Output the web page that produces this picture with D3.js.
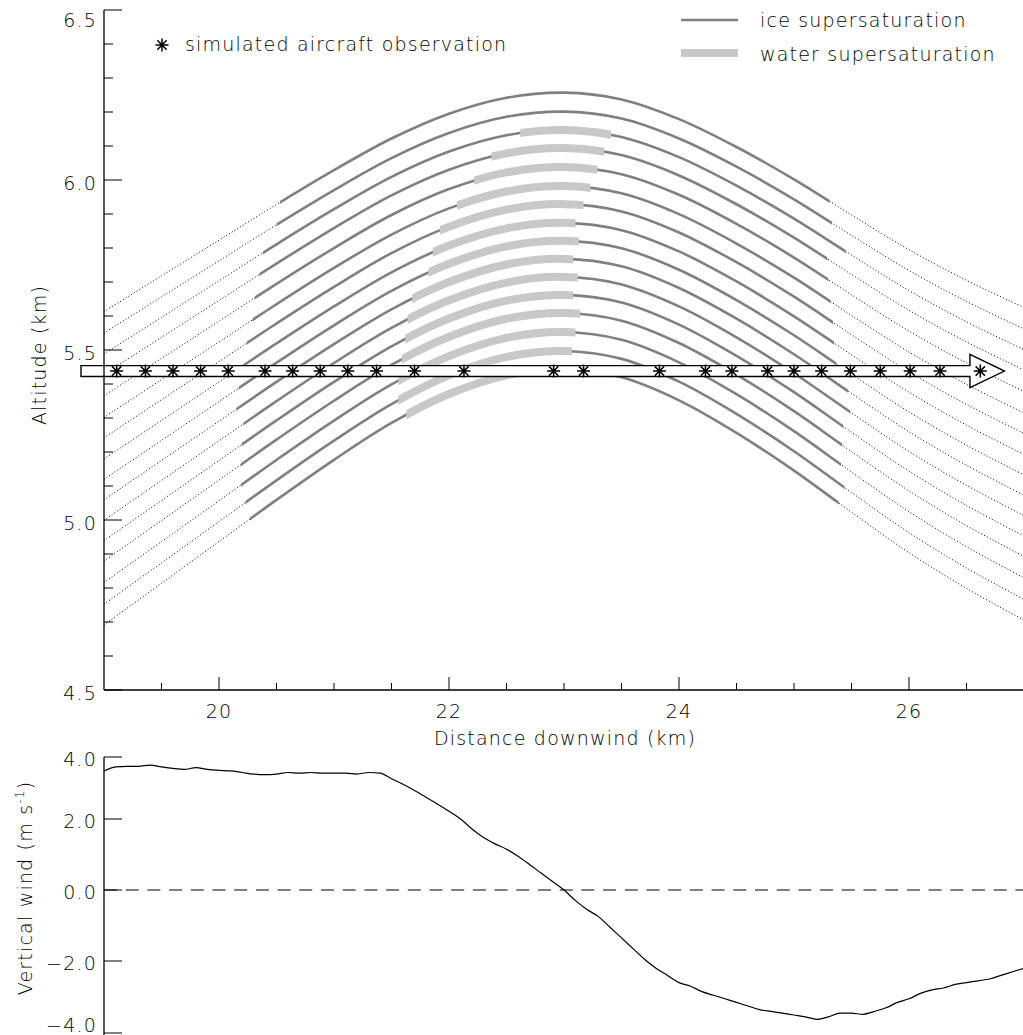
<!DOCTYPE html>
<html><head><meta charset="utf-8">
<script src="https://cdn.jsdelivr.net/npm/d3@7"></script>
<style>
html,body{margin:0;padding:0;background:#fff;}
svg{display:block;}
text{font-family:"DejaVu Sans",sans-serif;fill:#000;font-weight:200;letter-spacing:1.2px;}
</style></head>
<body>
<script>
// ---------- data ----------
// base streamline shape: depth below the crest (km) at each distance (km)
const shapeX    = [19, 19.5, 20, 20.5, 21, 21.5, 22, 22.5, 23, 23.5, 24, 24.5, 25, 25.5, 26, 26.5, 27];
const shapeDrop = [0.644, 0.539, 0.434, 0.329, 0.228, 0.135, 0.062, 0.015, 0, 0.020, 0.078, 0.160, 0.255, 0.360, 0.462, 0.552, 0.632];
// crest altitude (km) and amplitude factor of each of the 16 streamlines
const lineCrest = [6.257, 6.201, 6.147, 6.094, 6.038, 5.982, 5.929, 5.874, 5.821, 5.768, 5.715, 5.662, 5.609, 5.553, 5.497, 5.443];
const lineAmp   = [1.000, 1.011, 1.022, 1.033, 1.044, 1.056, 1.067, 1.078, 1.089, 1.100, 1.111, 1.122, 1.133, 1.144, 1.156, 1.167];
// ice supersaturation extent (km)
const iceStart  = [20.53, 20.50, 20.38, 20.35, 20.31, 20.29, 20.24, 20.21, 20.17, 20.15, 20.21, 20.20, 20.19, 20.19, 20.23, 20.27];
const iceEnd    = [25.31, 25.33, 25.45, 25.29, 25.30, 25.32, 25.34, 25.35, 25.37, 25.47, 25.49, 25.43, 25.42, 25.41, 25.44, 25.39];
// water supersaturation extent (km); null = none
const waterStart = [null, null, 22.62, 22.37, 22.22, 22.07, 21.92, 21.86, 21.82, 21.68, 21.64, 21.62, 21.59, 21.56, 21.56, 21.63];
const waterEnd   = [null, null, 23.41, 23.35, 23.29, 23.23, 23.17, 23.10, 23.13, 23.08, 23.12, 23.08, 23.14, 23.10, 23.07, 23.11];
// simulated aircraft observations (km downwind)
const obsX = [19.11, 19.36, 19.60, 19.84, 20.08, 20.40, 20.64, 20.88, 21.12, 21.37, 21.70, 22.13, 22.91, 23.17,
              23.83, 24.23, 24.46, 24.77, 25.00, 25.24, 25.49, 25.75, 26.01, 26.27, 26.62];
const flightAlt = 5.438;
const arrowX = [18.80, 26.53, 26.83];          // tail, head base, tip (km)
const arrowHalf = [0.016, 0.049];              // shaft / head half-height (km)
// vertical wind (m/s) every 0.1 km from 19.0 to 27.0
const windW = [3.55, 3.68, 3.70, 3.70, 3.74, 3.68, 3.63, 3.60, 3.66, 3.60,
               3.57, 3.55, 3.50, 3.45, 3.43, 3.45, 3.50, 3.48, 3.50, 3.48,
               3.48, 3.48, 3.45, 3.50, 3.48, 3.30, 3.12, 2.92, 2.70, 2.48,
               2.25, 2.00, 1.72, 1.48, 1.30, 1.15, 0.95, 0.72, 0.48, 0.24,
               0.00, -0.30, -0.55, -0.75, -1.05, -1.35, -1.65, -1.95, -2.20, -2.40,
               -2.60, -2.70, -2.85, -2.95, -3.05, -3.15, -3.25, -3.35, -3.40, -3.45,
               -3.50, -3.55, -3.62, -3.55, -3.45, -3.45, -3.48, -3.40, -3.30, -3.15,
               -3.05, -2.90, -2.80, -2.75, -2.65, -2.60, -2.55, -2.50, -2.40, -2.30, -2.20];
const windX = windW.map((d, i) => 19 + i * 0.1);
const altTicks = [4.5, 5.0, 5.5, 6.0, 6.5];
const distTicks = [20, 22, 24, 26];
const windTicks = [-4, -2, 0, 2, 4];

// ---------- drawing ----------
const W = 1023, H = 1035;
const svg = d3.select("body").append("svg").attr("width", W).attr("height", H);
const defs = svg.append("defs");

const x = d3.scaleLinear().domain([19, 27]).range([104, 1024]);
const yA = d3.scaleLinear().domain([4.5, 6.5]).range([690, 10]);
const yW = d3.scaleLinear().domain([-4, -2, 0, 2, 4]).range([1033, 961, 890, 819, 757]);

const ICE = "#808080", WATER = "#c8c8c8";

const lineGen = d3.line().x(d => x(d[0])).y(d => yA(d[1])).curve(d3.curveCatmullRom.alpha(0.5));

const gLines = svg.append("g");
lineCrest.forEach((crest, i) => {
  const pts = shapeX.map((sx, k) => [sx, crest - shapeDrop[k] * lineAmp[i]]);
  const d = lineGen(pts);
  const cOut = defs.append("clipPath").attr("id", "out" + i);
  cOut.append("rect").attr("x", x(19) - 2).attr("y", 0).attr("width", x(iceStart[i]) - x(19) + 2).attr("height", H);
  cOut.append("rect").attr("x", x(iceEnd[i])).attr("y", 0).attr("width", x(27) - x(iceEnd[i]) + 2).attr("height", H);
  const cIce = defs.append("clipPath").attr("id", "ice" + i);
  cIce.append("rect").attr("x", x(iceStart[i])).attr("y", 0).attr("width", x(iceEnd[i]) - x(iceStart[i])).attr("height", H);
  gLines.append("path").attr("d", d).attr("fill", "none").attr("stroke", "#000")
    .attr("stroke-width", 1).attr("stroke-dasharray", "1,2.2").attr("clip-path", `url(#out${i})`);
  gLines.append("path").attr("d", d).attr("fill", "none").attr("stroke", ICE)
    .attr("stroke-width", 2.6).attr("clip-path", `url(#ice${i})`);
  if (waterStart[i] != null) {
    const cW = defs.append("clipPath").attr("id", "wat" + i);
    cW.append("rect").attr("x", x(waterStart[i])).attr("y", 0).attr("width", x(waterEnd[i]) - x(waterStart[i])).attr("height", H);
    gLines.append("path").attr("d", d).attr("fill", "none").attr("stroke", WATER)
      .attr("stroke-width", 8).attr("clip-path", `url(#wat${i})`);
  }
});

// flight-track arrow
const ay = yA(flightAlt), sh = yA(flightAlt) - yA(flightAlt + arrowHalf[0]), hh = yA(flightAlt) - yA(flightAlt + arrowHalf[1]);
const arrowPath = d3.path();
arrowPath.moveTo(x(arrowX[0]), ay - sh);
arrowPath.lineTo(x(arrowX[1]), ay - sh);
arrowPath.lineTo(x(arrowX[1]), ay - hh);
arrowPath.lineTo(x(arrowX[2]), ay);
arrowPath.lineTo(x(arrowX[1]), ay + hh);
arrowPath.lineTo(x(arrowX[1]), ay + sh);
arrowPath.lineTo(x(arrowX[0]), ay + sh);
arrowPath.closePath();
svg.append("path").attr("d", arrowPath.toString()).attr("fill", "#fff").attr("stroke", "#000").attr("stroke-width", 1.4);

function star(g, cx, cy, r) {
  const a = r * 0.72;
  const p = `M${cx - r},${cy}L${cx + r},${cy}M${cx},${cy - r}L${cx},${cy + r}` +
            `M${cx - a},${cy - a}L${cx + a},${cy + a}M${cx - a},${cy + a}L${cx + a},${cy - a}`;
  g.append("path").attr("d", p).attr("stroke", "#000").attr("stroke-width", 1.5).attr("fill", "none");
}
const gStars = svg.append("g");
obsX.forEach(ox => star(gStars, x(ox), ay, 6.5));

// ---------- top axes ----------
const axTop = svg.append("g");
axTop.append("line").attr("x1", 104).attr("x2", 104).attr("y1", yA(6.5)).attr("y2", yA(4.5)).attr("stroke", "#000").attr("stroke-width", 1.3);
axTop.append("line").attr("x1", 104).attr("x2", 1023).attr("y1", yA(4.5)).attr("y2", yA(4.5)).attr("stroke", "#000").attr("stroke-width", 1.3);
d3.range(45, 66).map(v => v / 10).forEach(v => {
  const major = altTicks.some(t => Math.abs(t - v) < 1e-6);
  axTop.append("line").attr("x1", 104).attr("x2", 104 + (major ? 18 : 9))
    .attr("y1", yA(v)).attr("y2", yA(v)).attr("stroke", "#000").attr("stroke-width", 1);
});
altTicks.forEach(v => {
  axTop.append("text").attr("x", 97).attr("y", Math.max(yA(v) + 3, 20)).attr("dy", "0.36em")
    .attr("text-anchor", "end").attr("font-size", 19).text(v.toFixed(1));
});
d3.range(39, 54).map(v => v / 2).forEach(v => {
  const major = distTicks.includes(v);
  axTop.append("line").attr("x1", x(v)).attr("x2", x(v)).attr("y1", yA(4.5)).attr("y2", yA(4.5) - (major ? 13 : 7))
    .attr("stroke", "#000").attr("stroke-width", 1);
});
distTicks.forEach(v => {
  axTop.append("text").attr("x", x(v)).attr("y", 718).attr("text-anchor", "middle").attr("font-size", 19).text(v);
});
svg.append("text").attr("x", 565).attr("y", 745).attr("text-anchor", "middle").attr("font-size", 19).text("Distance downwind (km)");
svg.append("text").attr("transform", "translate(46,355) rotate(-90)").attr("text-anchor", "middle").attr("font-size", 19).text("Altitude (km)");

// legends
star(svg, 162, 45, 6.5);
svg.append("text").attr("x", 185).attr("y", 51).attr("font-size", 19).text("simulated aircraft observation");
svg.append("line").attr("x1", 681).attr("x2", 738).attr("y1", 20).attr("y2", 20).attr("stroke", ICE).attr("stroke-width", 2.6);
svg.append("line").attr("x1", 681).attr("x2", 738).attr("y1", 53).attr("y2", 53).attr("stroke", WATER).attr("stroke-width", 8);
svg.append("text").attr("x", 760).attr("y", 27).attr("font-size", 19).text("ice supersaturation");
svg.append("text").attr("x", 760).attr("y", 61).attr("font-size", 19).text("water supersaturation");

// ---------- bottom panel ----------
const axBot = svg.append("g");
axBot.append("line").attr("x1", 104).attr("x2", 104).attr("y1", yW(4)).attr("y2", H).attr("stroke", "#000").attr("stroke-width", 1.3);
windTicks.forEach(v => {
  axBot.append("line").attr("x1", 104).attr("x2", 122).attr("y1", yW(v)).attr("y2", yW(v)).attr("stroke", "#000").attr("stroke-width", 1);
  const ty = v === -4 ? yW(v) - 8 : yW(v) + 2;
  axBot.append("text").attr("x", 97).attr("y", ty).attr("dy", "0.36em").attr("text-anchor", "end")
    .attr("font-size", 19).text((v < 0 ? "\u2212" : "") + Math.abs(v).toFixed(1));
});
svg.append("line").attr("x1", 104).attr("x2", 1023).attr("y1", yW(0)).attr("y2", yW(0))
  .attr("stroke", "#000").attr("stroke-width", 1).attr("stroke-dasharray", "13,8.7");
const windLine = d3.line().x((d, i) => x(windX[i])).y(d => yW(d)).curve(d3.curveMonotoneX);
svg.append("path").attr("d", windLine(windW)).attr("fill", "none").attr("stroke", "#000").attr("stroke-width", 1.2);
const wl = svg.append("text").attr("transform", "translate(32,888) rotate(-90)").attr("text-anchor", "middle").attr("font-size", 19);
wl.append("tspan").text("Vertical wind (m s");
wl.append("tspan").attr("font-size", 12).attr("dy", -8).text("-1");
wl.append("tspan").attr("dy", 8).text(")");
</script>
</body></html>
